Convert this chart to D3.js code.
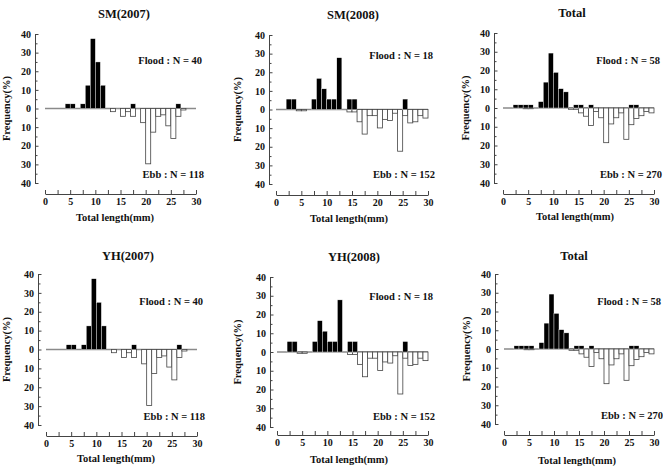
<!DOCTYPE html>
<html>
<head>
<meta charset="utf-8">
<script src="https://cdn.jsdelivr.net/npm/d3@7"></script>
<style>
  body { margin: 0; background: #fff; }
  svg { display: block; font-family: "Liberation Serif", "Times New Roman", serif; font-weight: bold; }
</style>
</head>
<body>
<div id="chart"></div>
<script>
// length classes (mm), each bin is [n, n+1)
var lengthBins = [0, 1, 2, 3, 4, 5, 6, 7, 8, 9, 10, 11, 12, 13, 14, 15, 16, 17, 18, 19, 20, 21, 22, 23, 24, 25, 26, 27, 28, 29]

// frequency (%) per bin
var sm2007Flood = [0, 0, 0, 0, 2.5, 2.5, 0, 2.5, 12.5, 37.5, 25, 12.5, 0, 0, 0, 0, 0, 2.5, 0, 0, 0, 0, 0, 0, 0, 0, 2.5, 0, 0, 0]
var sm2007Ebb = [0, 0, 0, 0, 0, 0, 0, 0, 0, 0, 0, 0, 0, 1.7, 0, 4.2, 1.7, 4.2, 0, 7.6, 29.7, 12.7, 4.2, 3.4, 9.3, 16.1, 4.2, 0.8, 0, 0]
var sm2008Flood = [0, 0, 5.6, 5.6, 0, 0, 0, 5.6, 16.7, 11.1, 5.6, 5.6, 27.8, 0, 5.6, 5.6, 0, 0, 0, 0, 0, 0, 0, 0, 0, 5.6, 0, 0, 0, 0]
var sm2008Ebb = [0, 0, 0, 0, 0.7, 0.7, 0, 0, 0, 0, 0, 0, 0, 0, 1.3, 1.3, 6.6, 13.2, 3.3, 3.3, 9.9, 5.3, 5.9, 2.0, 22.4, 3.3, 7.2, 6.6, 3.3, 4.6]
var totalFlood = [0, 0, 1.7, 1.7, 1.7, 1.7, 0, 3.4, 13.8, 29.3, 19.0, 10.3, 8.6, 0, 1.7, 1.7, 0, 1.7, 0, 0, 0, 0, 0, 0, 0, 1.7, 1.7, 0, 0, 0]
var totalEbb = [0, 0, 0, 0, 0.4, 0.4, 0, 0, 0, 0, 0, 0, 0, 0.7, 0.7, 2.6, 4.4, 9.3, 1.9, 5.2, 18.5, 8.5, 5.2, 2.6, 16.7, 8.9, 5.6, 4.1, 1.9, 2.6]
var yh2007Flood = [0, 0, 0, 0, 2.5, 2.5, 0, 2.5, 12.5, 37.5, 25, 12.5, 0, 0, 0, 0, 0, 2.5, 0, 0, 0, 0, 0, 0, 0, 0, 2.5, 0, 0, 0]
var yh2007Ebb = [0, 0, 0, 0, 0, 0, 0, 0, 0, 0, 0, 0, 0, 1.7, 0, 4.2, 1.7, 4.2, 0, 7.6, 29.7, 12.7, 4.2, 3.4, 9.3, 16.1, 4.2, 0.8, 0, 0]
var yh2008Flood = [0, 0, 5.6, 5.6, 0, 0, 0, 5.6, 16.7, 11.1, 5.6, 5.6, 27.8, 0, 5.6, 5.6, 0, 0, 0, 0, 0, 0, 0, 0, 0, 5.6, 0, 0, 0, 0]
var yh2008Ebb = [0, 0, 0, 0, 0.7, 0.7, 0, 0, 0, 0, 0, 0, 0, 0, 1.3, 1.3, 6.6, 13.2, 3.3, 3.3, 9.9, 5.3, 5.9, 2.0, 22.4, 3.3, 7.2, 6.6, 3.3, 4.6]

var panelTitles = ['SM(2007)', 'SM(2008)', 'Total', 'YH(2007)', 'YH(2008)', 'Total']
var floodN = [40, 18, 58, 40, 18, 58]
var ebbN = [118, 152, 270, 118, 152, 270]
var floodSeries = [sm2007Flood, sm2008Flood, totalFlood, yh2007Flood, yh2008Flood, totalFlood]
var ebbSeries = [sm2007Ebb, sm2008Ebb, totalEbb, yh2007Ebb, yh2008Ebb, totalEbb]

var yTicks = [-40, -30, -20, -10, 0, 10, 20, 30, 40]
var xTicks = [0, 2.5, 5, 7.5, 10, 12.5, 15, 17.5, 20, 22.5, 25, 27.5, 30]

// pixel layout of each panel
var layout = [
  { ax: 35, x0: 45, x1: 196, top: 34, bot: 183, xAxisY: 194, titleX: 124, titleY: 15, ylabX: 8, noteR: 202, floodY: 62, ebbY: 176, tickY: 203, xlabX: 115, xlabY: 219 },
  { ax: 269, x0: 276, x1: 428, top: 35, bot: 184, xAxisY: 195, titleX: 353, titleY: 16, ylabX: 239, noteR: 433, floodY: 57, ebbY: 176, tickY: 203, xlabX: 349, xlabY: 220 },
  { ax: 494, x0: 503, x1: 654, top: 33, bot: 183, xAxisY: 194, titleX: 572, titleY: 14, ylabX: 467, noteR: 660, floodY: 62, ebbY: 176, tickY: 203, xlabX: 575, xlabY: 218 },
  { ax: 38, x0: 46, x1: 197, top: 274, bot: 425, xAxisY: 436, titleX: 128, titleY: 257, ylabX: 8, noteR: 203, floodY: 303, ebbY: 418, tickY: 446, xlabX: 116, xlabY: 460 },
  { ax: 270, x0: 277, x1: 428, top: 277, bot: 427, xAxisY: 435, titleX: 354, titleY: 258, ylabX: 239, noteR: 433, floodY: 298, ebbY: 418, tickY: 446, xlabX: 349, xlabY: 461 },
  { ax: 495, x0: 504, x1: 654, top: 274, bot: 424, xAxisY: 435, titleX: 574, titleY: 257, ylabX: 468, noteR: 661, floodY: 303, ebbY: 417, tickY: 445, xlabX: 577, xlabY: 462 }
]

var width = 663
var height = 469

var svg = d3.select('#chart')
  .append('svg')
  .attr('width', width)
  .attr('height', height)

var ink = '#111'

function drawPanel(i) {
  var L = layout[i]
  var g = svg.append('g')

  var x = d3.scaleLinear().domain([0, 30]).range([L.x0, L.x1])
  var y = d3.scaleLinear().domain([-40, 40]).range([L.bot, L.top])

  // title
  g.append('text')
    .attr('x', L.titleX).attr('y', L.titleY)
    .attr('text-anchor', 'middle').attr('dominant-baseline', 'middle')
    .style('font-size', '12.5px').style('fill', ink)
    .text(panelTitles[i])

  // y axis, labels are absolute values on both sides of zero
  var yAxis = d3.axisLeft(y)
    .tickValues(yTicks)
    .tickSizeInner(-3.5)
    .tickSizeOuter(0)
    .tickPadding(4)
    .tickFormat(function (d) { return Math.abs(d) })
  var yg = g.append('g').attr('transform', 'translate(' + L.ax + ',0)').call(yAxis)
  yg.select('.domain').attr('stroke', '#444')
  yg.selectAll('.tick line').attr('stroke', '#444')
  yg.selectAll('text').style('font-size', '10px').style('font-family', 'Liberation Serif').style('font-weight', 'bold').attr('fill', ink)

  var yMinor = d3.axisLeft(y)
    .tickValues([-35, -25, -15, -5, 5, 15, 25, 35])
    .tickSizeInner(-2.5)
    .tickSizeOuter(0)
    .tickFormat('')
  var ymg = g.append('g').attr('transform', 'translate(' + L.ax + ',0)').call(yMinor)
  ymg.select('.domain').remove()
  ymg.selectAll('.tick line').attr('stroke', '#444')

  // x axis sits below the plot, ticks pointing up
  var xAxis = d3.axisBottom(x)
    .tickValues(xTicks)
    .tickSizeInner(-4)
    .tickSizeOuter(0)
    .tickPadding(4)
    .tickFormat(function (d) { return d % 5 == 0 ? d : '' })
  var xg = g.append('g').attr('transform', 'translate(0,' + L.xAxisY + ')').call(xAxis)
  xg.select('.domain').attr('stroke', '#444')
  xg.selectAll('.tick line').attr('stroke', '#444')
  xg.selectAll('text').style('font-size', '10px').style('font-family', 'Liberation Serif').style('font-weight', 'bold').attr('fill', ink)

  // axis titles
  g.append('text')
    .attr('transform', 'translate(' + L.ylabX + ',' + y(0) + ') rotate(-90)')
    .attr('text-anchor', 'middle').attr('dominant-baseline', 'middle')
    .style('font-size', '10.5px').style('fill', ink)
    .text('Frequency(%)')

  g.append('text')
    .attr('x', L.xlabX).attr('y', L.xlabY)
    .attr('text-anchor', 'middle').attr('dominant-baseline', 'middle')
    .style('font-size', '10.5px').style('fill', ink)
    .text('Total length(mm)')

  // zero line
  g.append('line')
    .attr('x1', x(0)).attr('x2', x(30))
    .attr('y1', y(0)).attr('y2', y(0))
    .attr('stroke', '#8a8a8a').attr('stroke-width', 1.4)

  // ebb: white bars hanging below zero
  g.selectAll('rect.ebb')
    .data(lengthBins.filter(function (b) { return ebbSeries[i][b] > 0 }))
    .enter()
    .append('rect')
    .attr('class', 'ebb')
    .attr('x', function (b) { return x(b) })
    .attr('width', function (b) { return x(b + 1) - x(b) })
    .attr('y', y(0))
    .attr('height', function (b) { return y(-ebbSeries[i][b]) - y(0) })
    .attr('fill', '#fff')
    .attr('stroke', '#444')
    .attr('stroke-width', 0.8)

  // flood: black bars above zero
  g.selectAll('rect.flood')
    .data(lengthBins.filter(function (b) { return floodSeries[i][b] > 0 }))
    .enter()
    .append('rect')
    .attr('class', 'flood')
    .attr('x', function (b) { return x(b) })
    .attr('width', function (b) { return x(b + 1) - x(b) })
    .attr('y', function (b) { return y(floodSeries[i][b]) })
    .attr('height', function (b) { return y(0) - y(floodSeries[i][b]) })
    .attr('fill', '#000')
    .attr('stroke', '#fff')
    .attr('stroke-width', 0.4)

  // sample sizes
  g.append('text')
    .attr('x', L.noteR).attr('y', L.floodY)
    .attr('text-anchor', 'end').attr('dominant-baseline', 'middle')
    .style('font-size', '10.5px').style('fill', ink)
    .text('Flood : N = ' + floodN[i])

  g.append('text')
    .attr('x', L.noteR + 2).attr('y', L.ebbY)
    .attr('text-anchor', 'end').attr('dominant-baseline', 'middle')
    .style('font-size', '10.5px').style('fill', ink)
    .text('Ebb : N = ' + ebbN[i])
}

for (var i = 0; i < 6; i++) {
  drawPanel(i)
}
</script>
</body>
</html>
